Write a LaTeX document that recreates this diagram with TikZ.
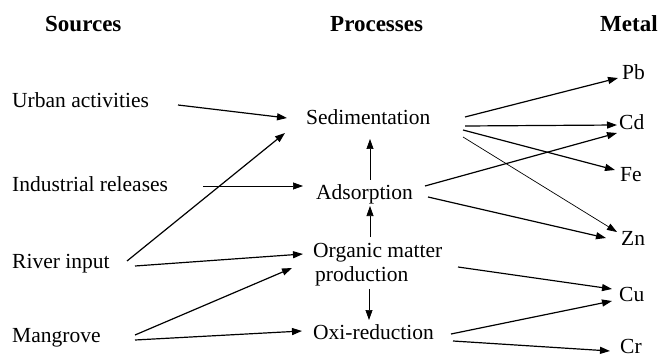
\documentclass[tikz,border=0pt]{standalone}
\usepackage{fontspec}
\setmainfont{Liberation Serif}
\usetikzlibrary{arrows.meta}
\begin{document}
\begin{tikzpicture}[x=1pt,y=-1pt,
  lbl/.style={inner sep=0pt,anchor=base west,font=\fontsize{21.5}{24}\selectfont},
  hdr/.style={inner sep=0pt,anchor=base west,font=\fontsize{23}{26}\selectfont\bfseries},
  arr/.style={line width=1.2pt,-{Triangle[length=10pt,width=7pt]}},
  tarr/.style={line width=0.7pt,-{Triangle[length=10pt,width=7pt]}}]
\useasboundingbox (0,0) rectangle (658,358);
% headers
\node[hdr] (hsrc) at (45,32) {Sources};
\node[hdr] (hproc) at (330,32) {Processes};
\node[hdr] (hmet) at (600,32) {Metal};
% sources
\node[lbl] (urban) at (12,108) {Urban activities};
\node[lbl] (ind) at (12,192) {Industrial releases};
\node[lbl] (river) at (12,268) {River input};
\node[lbl] (mang) at (12,342) {Mangrove};
% processes
\node[lbl] (sed) at (306,125) {Sedimentation};
\node[lbl] (ads) at (316,200) {Adsorption};
\node[lbl,align=left] (org) at (313,281) {Organic matter\\\hspace*{2pt}production};
\node[lbl] (oxi) at (313,339) {Oxi-reduction};
% metals
\node[lbl] (pb) at (622,80) {Pb};
\node[lbl] (cd) at (619,130) {Cd};
\node[lbl] (fe) at (620,182) {Fe};
\node[lbl] (zn) at (621,245) {Zn};
\node[lbl] (cu) at (619,301) {Cu};
\node[lbl] (cr) at (620,353) {Cr};
% sources -> processes
\draw[arr] ([shift={(166,-3)}]urban.base west) -- ([shift={(-19,-7)}]sed.base west);
\draw[arr] ([shift={(115,-7)}]river.base west) -- ([shift={(-21,8)}]sed.base west);
\draw[tarr] ([shift={(191,-6)}]ind.base west) -- ([shift={(-13,-14)}]ads.base west);
\draw[arr] ([shift={(123,-2)}]river.base west) -- ([shift={(-10,-27)}]org.base west);
\draw[arr] ([shift={(123,-7)}]mang.base west) -- ([shift={(-21,-13)}]org.base west);
\draw[arr] ([shift={(123,-2)}]mang.base west) -- ([shift={(-11,-8)}]oxi.base west);
% vertical
\draw[tarr] ([shift={(54,-20)}]ads.base west) -- ([shift={(64,14)}]sed.base west);
\draw[tarr] ([shift={(57,-44)}]org.base west) -- ([shift={(54,6)}]ads.base west);
\draw[tarr] ([shift={(56,8)}]org.base west) -- ([shift={(56,-19)}]oxi.base west);
% processes -> metals
\draw[arr] ([shift={(159,-8)}]sed.base west) -- ([shift={(-4,-2)}]pb.base west);
\draw[arr] ([shift={(159,1)}]sed.base west) -- ([shift={(-2,-5)}]cd.base west);
\draw[arr] ([shift={(157,5)}]sed.base west) -- ([shift={(-5,-12)}]fe.base west);
\draw[tarr] ([shift={(157,12)}]sed.base west) -- ([shift={(-4,-13)}]zn.base west);
\draw[arr] ([shift={(109,-14)}]ads.base west) -- ([shift={(-2,3)}]cd.base west);
\draw[arr] ([shift={(112,-3)}]ads.base west) -- ([shift={(-15,-7)}]zn.base west);
\draw[arr] ([shift={(145,-14)}]org.base west) -- ([shift={(-7,-12)}]cu.base west);
\draw[arr] ([shift={(138,-5)}]oxi.base west) -- ([shift={(-7,0)}]cu.base west);
\draw[arr] ([shift={(140,2)}]oxi.base west) -- ([shift={(-10,-2)}]cr.base west);
\end{tikzpicture}
\end{document}
